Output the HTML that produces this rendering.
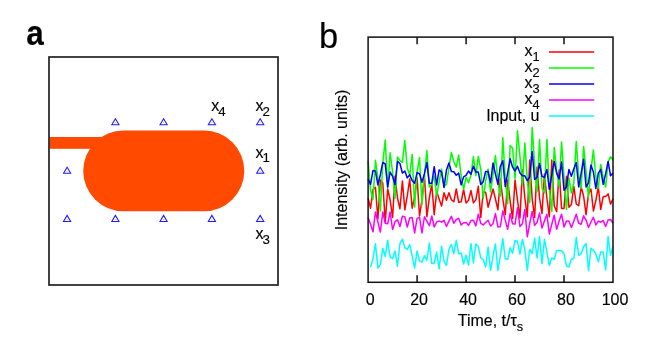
<!DOCTYPE html>
<html><head><meta charset="utf-8"><title>figure</title>
<style>
html,body{margin:0;padding:0;background:#fff;}
body{width:654px;height:343px;overflow:hidden;position:relative;font-family:"Liberation Sans",sans-serif;}
svg{position:absolute;left:0;top:0;will-change:transform;}
svg text{font-family:"Liberation Sans",sans-serif;font-size:16px;fill:#000;stroke:#000;stroke-width:0.15px;}
</style></head><body>
<svg width="654" height="343" viewBox="0 0 654 343">
<!-- panel a -->
<text transform="translate(26.2,45.1) scale(0.89,1)" style="font-size:35.3px;font-weight:bold;fill:#000">a</text>
<rect x="49.5" y="137" width="80" height="11.8" fill="#ff4a00"/>
<rect x="83.2" y="130.5" width="161.1" height="80.8" rx="40.4" ry="40.4" fill="#ff4a00"/>
<rect x="49" y="57" width="229" height="228" fill="none" stroke="#222" stroke-width="1.7"/>
<path d="M111.8,124.8 L119.0,124.8 L115.4,118.7 Z" fill="none" stroke="#1c1cff" stroke-width="1.05"/><circle cx="115.4" cy="122.8" r="0.45" fill="#8888ff"/><path d="M160.0,124.8 L167.2,124.8 L163.6,118.7 Z" fill="none" stroke="#1c1cff" stroke-width="1.05"/><circle cx="163.6" cy="122.8" r="0.45" fill="#8888ff"/><path d="M208.3,124.8 L215.5,124.8 L211.9,118.7 Z" fill="none" stroke="#1c1cff" stroke-width="1.05"/><circle cx="211.9" cy="122.8" r="0.45" fill="#8888ff"/><path d="M256.6,124.8 L263.8,124.8 L260.2,118.7 Z" fill="none" stroke="#1c1cff" stroke-width="1.05"/><circle cx="260.2" cy="122.8" r="0.45" fill="#8888ff"/><path d="M63.5,173.2 L70.7,173.2 L67.1,167.2 Z" fill="none" stroke="#1c1cff" stroke-width="1.05"/><circle cx="67.1" cy="171.2" r="0.45" fill="#8888ff"/><path d="M256.6,173.2 L263.8,173.2 L260.2,167.2 Z" fill="none" stroke="#1c1cff" stroke-width="1.05"/><circle cx="260.2" cy="171.2" r="0.45" fill="#8888ff"/><path d="M63.5,221.5 L70.7,221.5 L67.1,215.4 Z" fill="none" stroke="#1c1cff" stroke-width="1.05"/><circle cx="67.1" cy="219.5" r="0.45" fill="#8888ff"/><path d="M111.8,221.5 L119.0,221.5 L115.4,215.4 Z" fill="none" stroke="#1c1cff" stroke-width="1.05"/><circle cx="115.4" cy="219.5" r="0.45" fill="#8888ff"/><path d="M160.0,221.5 L167.2,221.5 L163.6,215.4 Z" fill="none" stroke="#1c1cff" stroke-width="1.05"/><circle cx="163.6" cy="219.5" r="0.45" fill="#8888ff"/><path d="M208.3,221.5 L215.5,221.5 L211.9,215.4 Z" fill="none" stroke="#1c1cff" stroke-width="1.05"/><circle cx="211.9" cy="219.5" r="0.45" fill="#8888ff"/><path d="M256.6,221.5 L263.8,221.5 L260.2,215.4 Z" fill="none" stroke="#1c1cff" stroke-width="1.05"/><circle cx="260.2" cy="219.5" r="0.45" fill="#8888ff"/>
<text x="211.3" y="111.3">x<tspan font-size="13.3" dx="-1.1" dy="4.2">4</tspan></text>
<text x="255.5" y="111.3">x<tspan font-size="13.3" dx="-1.1" dy="4.2">2</tspan></text>
<text x="255.5" y="157.9">x<tspan font-size="13.3" dx="-1.1" dy="4.2">1</tspan></text>
<text x="255.5" y="239.4">x<tspan font-size="13.3" dx="-1.1" dy="4.2">3</tspan></text>
<!-- panel b -->
<text x="318.9" y="48.4" style="font-size:34.5px;fill:#000">b</text>
<polyline points="368.10,198.1 370.55,208.2 373.00,189.5 375.45,187.4 377.90,219.0 380.35,180.0 382.79,183.0 385.24,221.7 387.69,189.0 390.14,200.0 392.59,217.4 395.04,176.0 397.49,198.0 399.94,208.8 402.39,181.0 404.84,209.8 407.28,195.9 409.73,179.0 412.18,208.2 414.63,197.0 417.08,178.0 419.53,216.0 421.98,199.7 424.43,175.5 426.88,216.8 429.33,198.0 431.77,184.1 434.22,214.7 436.67,191.6 439.12,199.0 441.57,206.0 444.02,192.7 446.47,200.2 448.92,192.7 451.37,199.7 453.81,201.8 456.26,189.0 458.71,202.3 461.16,201.8 463.61,189.5 466.06,202.9 468.51,200.2 470.96,190.6 473.41,202.9 475.86,199.7 478.31,186.3 480.75,217.4 483.20,192.0 485.65,192.2 488.10,207.2 490.55,198.0 493.00,189.0 495.45,199.0 497.90,209.8 500.35,179.0 502.80,199.0 505.24,214.7 507.69,180.0 510.14,201.0 512.59,218.4 515.04,180.0 517.49,200.0 519.94,217.9 522.39,170.0 524.84,198.0 527.29,216.8 529.73,160.0 532.18,199.0 534.63,217.4 537.08,167.0 539.53,198.0 541.98,213.6 544.43,174.0 546.88,198.0 549.33,216.8 551.77,160.0 554.22,205.7 556.67,211.6 559.12,170.0 561.57,208.4 564.02,208.4 566.47,176.3 568.92,207.3 571.37,204.6 573.82,186.4 576.26,204.0 578.71,205.7 581.16,187.0 583.61,196.0 586.06,214.7 588.51,193.9 590.96,189.1 593.41,211.0 595.86,200.3 598.31,187.0 600.75,209.4 603.20,196.6 605.65,196.6 608.10,193.9 610.55,204.1 613.00,198.7" fill="none" stroke="#ff0000" stroke-width="1.5" stroke-linejoin="round"/>
<polyline points="368.10,161.0 370.55,190.0 373.00,199.4 375.45,160.2 377.90,178.0 380.35,211.0 382.79,163.0 385.24,139.9 387.69,188.0 390.14,152.8 392.59,172.0 395.04,198.5 397.49,157.0 399.94,160.7 402.39,162.3 404.84,140.4 407.28,168.2 409.73,175.2 412.18,154.4 414.63,207.0 417.08,172.0 419.53,157.6 421.98,205.0 424.43,175.0 426.88,150.6 429.33,187.1 431.77,184.4 434.22,176.1 436.67,195.7 439.12,182.0 441.57,169.1 444.02,186.0 446.47,184.5 448.92,168.0 451.37,152.4 453.81,161.8 456.26,167.1 458.71,155.0 461.16,176.0 463.61,189.2 466.06,177.2 468.51,182.7 470.96,175.2 473.41,156.6 475.86,175.7 478.31,156.4 480.75,169.3 483.20,198.5 485.65,181.0 488.10,169.1 490.55,191.9 493.00,175.0 495.45,155.4 497.90,182.0 500.35,196.0 502.80,137.8 505.24,178.0 507.69,203.7 510.14,145.4 512.59,148.0 515.04,179.0 517.49,130.8 519.94,156.4 522.39,185.0 524.84,143.1 527.29,180.0 529.73,202.6 532.18,127.6 534.63,165.0 537.08,192.0 539.53,139.4 541.98,188.0 544.43,193.0 546.88,139.4 549.33,188.0 551.77,211.5 554.22,147.4 556.67,171.0 559.12,186.5 561.57,142.1 564.02,177.0 566.47,209.5 568.92,177.9 571.37,193.0 573.82,183.0 576.26,141.5 578.71,176.0 581.16,188.0 583.61,146.4 586.06,171.0 588.51,197.0 590.96,170.0 593.41,150.1 595.86,177.0 598.31,188.0 600.75,164.4 603.20,177.0 605.65,187.0 608.10,162.0 610.55,156.8 613.00,160.0" fill="none" stroke="#00ff00" stroke-width="1.5" stroke-linejoin="round"/>
<polyline points="368.10,179.0 370.55,184.4 373.00,170.4 375.45,171.0 377.90,184.9 380.35,174.7 382.79,162.4 385.24,164.0 387.69,187.0 390.14,172.1 392.59,176.3 395.04,184.4 397.49,161.4 399.94,163.5 402.39,173.1 404.84,171.0 407.28,177.9 409.73,174.7 412.18,180.6 414.63,183.3 417.08,172.6 419.53,173.7 421.98,182.2 424.43,173.7 426.88,162.6 429.33,183.3 431.77,183.3 434.22,166.7 436.67,184.9 439.12,169.9 441.57,172.1 444.02,187.6 446.47,169.9 448.92,163.0 451.37,171.5 453.81,171.8 456.26,175.3 458.71,173.1 461.16,184.9 463.61,176.9 466.06,175.3 468.51,171.0 470.96,174.2 473.41,166.2 475.86,172.1 478.31,172.1 480.75,184.4 483.20,181.7 485.65,171.5 488.10,171.5 490.55,182.8 493.00,163.0 495.45,174.2 497.90,184.4 500.35,166.2 502.80,160.8 505.24,186.5 507.69,172.6 510.14,158.7 512.59,167.2 515.04,171.0 517.49,166.2 519.94,173.1 522.39,175.8 524.84,175.8 527.29,180.6 529.73,176.9 532.18,151.4 534.63,179.5 537.08,177.4 539.53,163.5 541.98,176.3 544.43,177.4 546.88,169.4 549.33,189.2 551.77,174.7 554.22,161.4 556.67,173.1 559.12,179.0 561.57,161.9 564.02,190.3 566.47,186.5 568.92,169.4 571.37,176.3 573.82,168.8 576.26,162.4 578.71,187.0 581.16,173.1 583.61,159.2 586.06,187.0 588.51,182.8 590.96,165.1 593.41,172.1 595.86,188.6 598.31,173.1 600.75,169.4 603.20,184.4 605.65,173.7 608.10,161.4 610.55,175.8 613.00,173.1" fill="none" stroke="#0000ff" stroke-width="1.5" stroke-linejoin="round"/>
<polyline points="368.10,217.4 370.55,224.3 373.00,231.8 375.45,212.0 377.90,222.0 380.35,232.0 382.79,212.0 385.24,223.3 387.69,223.8 390.14,212.0 392.59,229.5 395.04,221.7 397.49,219.8 399.94,226.5 402.39,216.3 404.84,216.8 407.28,227.0 409.73,217.9 412.18,217.4 414.63,232.9 417.08,218.4 419.53,217.4 421.98,232.9 424.43,216.8 426.88,221.1 429.33,225.7 431.77,216.0 434.22,227.0 436.67,222.2 439.12,220.9 441.57,222.2 444.02,220.3 446.47,226.5 448.92,221.1 451.37,216.3 453.81,223.3 456.26,219.5 458.71,218.4 461.16,224.9 463.61,222.7 466.06,222.4 468.51,225.4 470.96,220.6 473.41,220.3 475.86,225.9 478.31,214.2 480.75,223.3 483.20,224.9 485.65,222.5 488.10,220.3 490.55,226.0 493.00,223.8 495.45,213.6 497.90,227.0 500.35,226.7 502.80,211.0 505.24,220.1 507.69,229.2 510.14,213.6 512.59,223.8 515.04,224.1 517.49,207.7 519.94,226.5 522.39,223.8 524.84,209.4 527.29,236.8 529.73,223.3 532.18,211.5 534.63,225.4 537.08,222.2 539.53,213.1 541.98,228.1 544.43,221.1 546.88,214.2 549.33,234.0 551.77,224.3 554.22,215.2 556.67,229.2 559.12,221.1 561.57,214.2 564.02,227.0 566.47,221.1 568.92,220.9 571.37,227.5 573.82,221.1 576.26,214.2 578.71,223.3 581.16,224.3 583.61,215.8 586.06,220.1 588.51,227.5 590.96,222.0 593.41,217.4 595.86,224.9 598.31,221.1 600.75,222.2 603.20,220.6 605.65,226.5 608.10,220.1 610.55,219.5 613.00,223.3" fill="none" stroke="#ff00ff" stroke-width="1.5" stroke-linejoin="round"/>
<polyline points="370.55,267.3 373.00,259.0 375.45,243.7 377.90,268.1 380.35,264.4 382.79,248.3 385.24,256.3 387.69,240.3 390.14,257.4 392.59,258.7 395.04,251.0 397.49,266.5 399.94,243.5 402.39,239.2 404.84,247.6 407.28,249.4 409.73,244.6 412.18,255.8 414.63,268.1 417.08,251.0 419.53,260.8 421.98,262.2 424.43,255.6 426.88,260.5 429.33,243.0 431.77,263.6 434.22,263.0 436.67,252.1 439.12,269.0 441.57,246.2 444.02,261.2 446.47,265.4 448.92,249.4 451.37,244.6 453.81,253.7 456.26,240.3 458.71,253.7 461.16,252.9 463.61,264.0 466.06,255.3 468.51,265.1 470.96,243.5 473.41,262.8 475.86,244.0 478.31,246.7 480.75,257.9 483.20,259.3 485.65,267.0 488.10,247.2 490.55,270.3 493.00,256.3 495.45,244.0 497.90,270.5 500.35,255.8 502.80,238.7 505.24,258.7 507.69,259.3 510.14,247.8 512.59,253.1 515.04,240.5 517.49,241.4 519.94,254.2 522.39,239.2 524.84,249.9 527.29,270.3 529.73,249.4 532.18,253.7 534.63,238.1 537.08,257.9 539.53,236.5 541.98,263.8 544.43,239.2 546.88,252.1 549.33,265.4 551.77,257.9 554.22,259.3 556.67,250.4 559.12,250.4 561.57,250.8 564.02,253.7 566.47,266.0 568.92,267.0 571.37,259.3 573.82,258.5 576.26,237.6 578.71,255.5 581.16,253.7 583.61,246.7 586.06,243.5 588.51,270.8 590.96,248.3 593.41,250.4 595.86,254.2 598.31,261.7 600.75,252.1 603.20,252.1 605.65,270.0 608.10,236.5 610.55,255.3 613.00,246.2" fill="none" stroke="#00ffff" stroke-width="1.5" stroke-linejoin="round"/>
<rect x="368.1" y="37.1" width="244.9" height="245.2" fill="none" stroke="#111" stroke-width="1.5"/>
<line x1="417.1" y1="282.3" x2="417.1" y2="275.2" stroke="#111" stroke-width="1.5"/><line x1="417.1" y1="37.1" x2="417.1" y2="44.2" stroke="#111" stroke-width="1.5"/><line x1="466.1" y1="282.3" x2="466.1" y2="275.2" stroke="#111" stroke-width="1.5"/><line x1="466.1" y1="37.1" x2="466.1" y2="44.2" stroke="#111" stroke-width="1.5"/><line x1="515.0" y1="282.3" x2="515.0" y2="275.2" stroke="#111" stroke-width="1.5"/><line x1="515.0" y1="37.1" x2="515.0" y2="44.2" stroke="#111" stroke-width="1.5"/><line x1="564.0" y1="282.3" x2="564.0" y2="275.2" stroke="#111" stroke-width="1.5"/><line x1="564.0" y1="37.1" x2="564.0" y2="44.2" stroke="#111" stroke-width="1.5"/>
<text x="370.1" y="304.6" text-anchor="middle">0</text><text x="419.1" y="304.6" text-anchor="middle">20</text><text x="468.1" y="304.6" text-anchor="middle">40</text><text x="517.0" y="304.6" text-anchor="middle">60</text><text x="566.0" y="304.6" text-anchor="middle">80</text><text x="615.0" y="304.6" text-anchor="middle">100</text>
<line x1="549" y1="52.0" x2="594.2" y2="52.0" stroke="#ff0000" stroke-width="1.45"/><text x="539.5" y="56.2" text-anchor="end">x<tspan font-size="12.8" dy="4.6">1</tspan></text><line x1="549" y1="68.0" x2="594.2" y2="68.0" stroke="#00ff00" stroke-width="1.45"/><text x="539.5" y="72.2" text-anchor="end">x<tspan font-size="12.8" dy="4.6">2</tspan></text><line x1="549" y1="84.0" x2="594.2" y2="84.0" stroke="#0000ff" stroke-width="1.45"/><text x="539.5" y="88.2" text-anchor="end">x<tspan font-size="12.8" dy="4.6">3</tspan></text><line x1="549" y1="100.0" x2="594.2" y2="100.0" stroke="#ff00ff" stroke-width="1.45"/><text x="539.5" y="104.2" text-anchor="end">x<tspan font-size="12.8" dy="4.6">4</tspan></text><line x1="549" y1="116.0" x2="594.2" y2="116.0" stroke="#00ffff" stroke-width="1.45"/><text x="539.5" y="121.4" text-anchor="end">Input, u</text>
<text x="490.5" y="325.7" text-anchor="middle">Time, t/&#964;<tspan font-size="12.8" dy="4.8">s</tspan></text>
<text transform="translate(346.7,160.0) rotate(-90)" text-anchor="middle">Intensity (arb. units)</text>
</svg>
</body></html>
